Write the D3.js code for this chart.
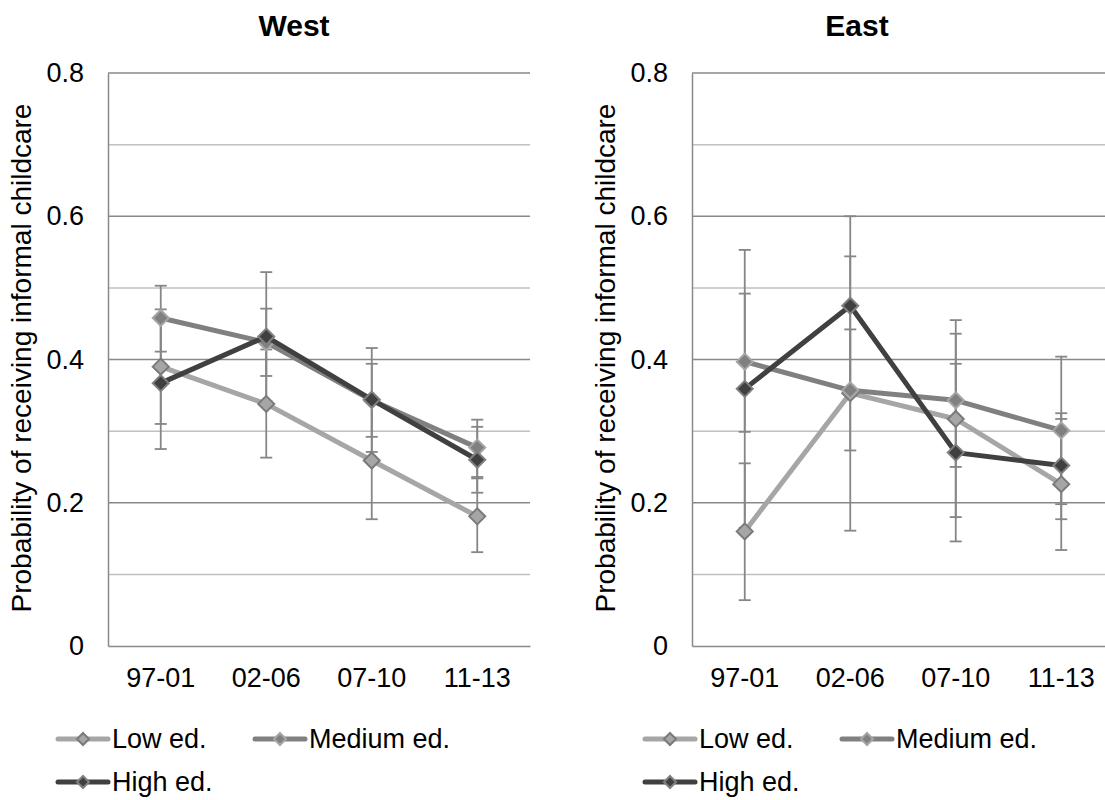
<!DOCTYPE html>
<html>
<head>
<meta charset="utf-8">
<script src="https://cdn.jsdelivr.net/npm/d3@7"></script>
<style>
  body { margin: 0; background: #fff; }
  text { font-family: "Liberation Sans", Arial, sans-serif; fill: #000; }
</style>
</head>
<body>
<svg id="chart" width="1105" height="800"></svg>
<script>
// periods on the x axis
var periods = ['97-01', '02-06', '07-10', '11-13'];
var yTicks = [0, 0.2, 0.4, 0.6, 0.8];
var gridMinor = [0.1, 0.3, 0.5, 0.7];
var seriesNames = ['Low ed.', 'Medium ed.', 'High ed.'];

// West: point estimates and CI bounds
var westLow = [0.390, 0.338, 0.259, 0.181];
var westMed = [0.458, 0.424, 0.343, 0.277];
var westHigh = [0.367, 0.432, 0.344, 0.260];
var westLowLo = [0.310, 0.263, 0.177, 0.131];
var westLowHi = [0.470, 0.414, 0.340, 0.234];
var westMedLo = [0.411, 0.377, 0.292, 0.236];
var westMedHi = [0.503, 0.471, 0.394, 0.316];
var westHighLo = [0.275, 0.342, 0.271, 0.214];
var westHighHi = [0.460, 0.522, 0.416, 0.306];

// East
var eastLow = [0.160, 0.353, 0.317, 0.226];
var eastMed = [0.397, 0.357, 0.343, 0.301];
var eastHigh = [0.359, 0.475, 0.270, 0.252];
var eastLowLo = [0.064, 0.161, 0.180, 0.134];
var eastLowHi = [0.255, 0.544, 0.455, 0.317];
var eastMedLo = [0.299, 0.273, 0.250, 0.198];
var eastMedHi = [0.492, 0.442, 0.436, 0.404];
var eastHighLo = [0.165, 0.350, 0.146, 0.177];
var eastHighHi = [0.553, 0.600, 0.394, 0.325];

var lineColours = ['#a6a6a6', '#808080', '#404040'];
var markerStroke = ['#7a7a7a', '#a6a6a6', '#808080'];
var majorGrid = '#898989', minorGrid = '#c0c0c0', errColour = '#868686';
var fontSize = 27;

var svg = d3.select('#chart');
var diamond = 'M0,-8L8,0L0,8L-8,0Z';

function drawPanel(opts) {
    var g = svg.append('g');
    var x = d3.scaleBand().domain(periods).range([opts.left, opts.left + 422]);
    var y = d3.scaleLinear().domain([0, 0.8]).range([646, 73]);

    g.selectAll('line.minor').data(gridMinor).enter().append('line')
        .attr('x1', opts.left).attr('x2', opts.left + 422)
        .attr('y1', function (d) { return y(d); }).attr('y2', function (d) { return y(d); })
        .attr('stroke', minorGrid).attr('stroke-width', 1.5);
    g.selectAll('line.major').data(yTicks.slice(1)).enter().append('line')
        .attr('x1', opts.left).attr('x2', opts.left + 422)
        .attr('y1', function (d) { return y(d); }).attr('y2', function (d) { return y(d); })
        .attr('stroke', majorGrid).attr('stroke-width', 1.5);

    // axes
    var yAxis = d3.axisLeft(y).tickValues(yTicks).tickSize(0).tickPadding(24)
        .tickFormat(function (d) { return d === 0 ? '0' : d3.format('.1f')(d); });
    var ya = g.append('g').attr('transform', 'translate(' + opts.left + ',0)').call(yAxis);
    ya.select('.domain').attr('stroke', majorGrid).attr('stroke-width', 1.5);
    ya.selectAll('text').attr('font-size', fontSize).style('font-family', '"Liberation Sans", Arial, sans-serif');

    var xAxis = d3.axisBottom(x).tickSize(0).tickPadding(22);
    var xa = g.append('g').attr('transform', 'translate(0,' + y(0) + ')').call(xAxis);
    xa.select('.domain').attr('stroke', majorGrid).attr('stroke-width', 1.5);
    xa.selectAll('text').attr('font-size', fontSize).style('font-family', '"Liberation Sans", Arial, sans-serif');

    g.append('text').attr('x', opts.titleX).attr('y', 36).attr('text-anchor', 'middle')
        .attr('font-size', 30).attr('font-weight', 'bold').text(opts.title);
    g.append('text')
        .attr('transform', 'translate(' + opts.labelX + ',' + 358 + ') rotate(-90)')
        .attr('text-anchor', 'middle').attr('font-size', 28)
        .text('Probability of receiving informal childcare');

    var cx = function (i) { return x(periods[i]) + x.bandwidth() / 2; };

    // error bars
    opts.series.forEach(function (s) {
        s.lo.forEach(function (lo, i) {
            var hi = s.hi[i];
            g.append('line').attr('x1', cx(i)).attr('x2', cx(i))
                .attr('y1', y(lo)).attr('y2', y(hi))
                .attr('stroke', errColour).attr('stroke-width', 1.8);
            [lo, hi].forEach(function (v) {
                g.append('line').attr('x1', cx(i) - 6).attr('x2', cx(i) + 6)
                    .attr('y1', y(v)).attr('y2', y(v))
                    .attr('stroke', errColour).attr('stroke-width', 1.8);
            });
        });
    });

    var line = d3.line().x(function (d, i) { return cx(i); }).y(function (d) { return y(d); });
    opts.series.forEach(function (s, k) {
        g.append('path').datum(s.values).attr('d', line)
            .attr('fill', 'none').attr('stroke', lineColours[k]).attr('stroke-width', 5)
            .attr('stroke-linejoin', 'round');
        g.selectAll('path.m' + k).data(s.values).enter().append('path')
            .attr('d', diamond)
            .attr('transform', function (d, i) { return 'translate(' + cx(i) + ',' + y(d) + ')'; })
            .attr('fill', lineColours[k]).attr('stroke', markerStroke[k]).attr('stroke-width', 2);
    });

    // legend
    var legendPos = [[opts.legendX, 739], [opts.legendX + 197, 739], [opts.legendX, 782]];
    seriesNames.forEach(function (name, k) {
        var p = legendPos[k];
        var lg = g.append('g').attr('transform', 'translate(' + p[0] + ',' + p[1] + ')');
        lg.append('line').attr('x1', 0).attr('x2', 50).attr('y1', 0).attr('y2', 0)
            .attr('stroke', lineColours[k]).attr('stroke-width', 5).attr('stroke-linecap', 'round');
        lg.append('path').attr('d', 'M0,-6L6,0L0,6L-6,0Z').attr('transform', 'translate(25,0)')
            .attr('fill', lineColours[k]).attr('stroke', markerStroke[k]).attr('stroke-width', 2);
        lg.append('text').attr('x', 54).attr('y', 0).attr('dy', '0.35em')
            .attr('font-size', fontSize).text(name);
    });
}

drawPanel({
    left: 108, title: 'West', titleX: 294, labelX: 31, legendX: 58,
    series: [
        { values: westLow, lo: westLowLo, hi: westLowHi },
        { values: westMed, lo: westMedLo, hi: westMedHi },
        { values: westHigh, lo: westHighLo, hi: westHighHi }
    ]
});
drawPanel({
    left: 692, title: 'East', titleX: 857, labelX: 615, legendX: 645,
    series: [
        { values: eastLow, lo: eastLowLo, hi: eastLowHi },
        { values: eastMed, lo: eastMedLo, hi: eastMedHi },
        { values: eastHigh, lo: eastHighLo, hi: eastHighHi }
    ]
});
</script>
</body>
</html>
